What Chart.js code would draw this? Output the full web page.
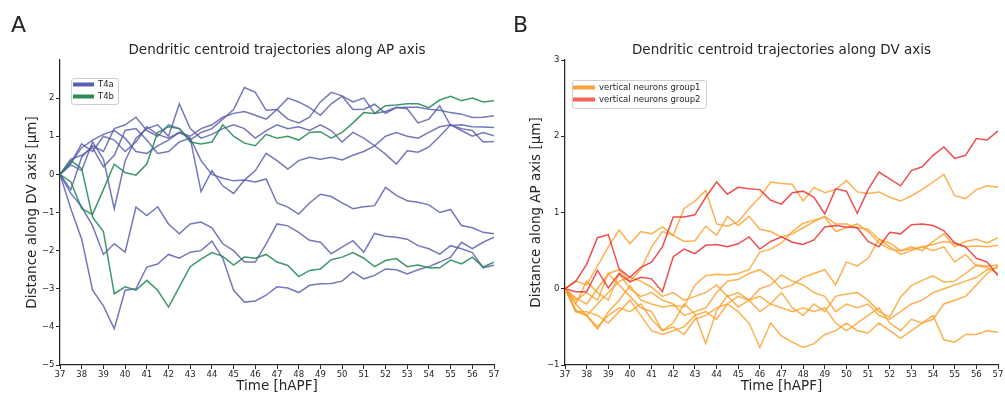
<!DOCTYPE html>
<html><head><meta charset="utf-8">
<script src="https://cdn.jsdelivr.net/npm/chart.js@4.4.0/dist/chart.umd.min.js"></script>
<style>
html,body{margin:0;padding:0;background:#fff;}
#wrap{position:relative;width:1005px;height:399px;overflow:hidden;background:#fff;}
canvas{position:absolute;top:0;}
#ca{left:0;}
#cb{left:502px;}
.letter{position:absolute;top:12px;font-family:'DejaVu Sans';font-size:22px;line-height:normal;color:#262626;}
</style></head><body>
<div id="wrap">
<canvas id="ca" width="502" height="399"></canvas>
<canvas id="cb" width="503" height="399"></canvas>
<div class="letter" style="left:11px">A</div>
<div class="letter" style="left:513px">B</div>
</div>
<script>
// ---- data (time in hAPF, every 0.5 h) ----
const times = [37,37.5,38,38.5,39,39.5,40,40.5,41,41.5,42,42.5,43,43.5,44,44.5,45,45.5,46,46.5,47,47.5,48,48.5,49,49.5,50,50.5,51,51.5,52,52.5,53,53.5,54,54.5,55,55.5,56,56.5,57];
const xTicks = [37,38,39,40,41,42,43,44,45,46,47,48,49,50,51,52,53,54,55,56,57];
const yTicksA = [-5,-4,-3,-2,-1,0,1,2];
const yTicksB = [-1,0,1,2,3];

// Panel A: T4a
const t4a_1 = [0,-0.4,0.45,0.75,0.6,1.2,1.3,1.5,1.15,1.0,1.3,1.2,0.9,1.1,1.2,1.45,1.7,2.28,2.15,1.68,1.7,1.45,1.35,1.5,1.9,2.15,2.06,1.9,2.0,1.6,1.65,1.76,1.72,1.35,1.45,1.8,1.28,1.3,1.25,1.24,1.23];
const t4a_2 = [0,0.3,0.8,0.6,1.0,0.9,0.6,0.85,1.25,1.05,0.95,1.1,1.0,1.2,1.3,1.5,1.6,1.65,1.55,1.45,1.7,2.0,1.9,1.75,1.55,1.85,2.05,1.7,1.71,1.84,1.6,1.75,1.76,1.76,1.71,1.68,1.62,1.58,1.49,1.5,1.54];
const t4a_3 = [0,0.25,0.1,0.85,0.4,-0.9,0.35,0.95,1.2,1.3,1.0,1.85,1.2,0.95,1.05,1.2,1.3,1.2,0.95,1.15,1.3,1.2,1.25,1.15,1.3,1.15,0.85,1.1,0.95,0.75,1.0,1.1,1.0,0.95,1.1,1.25,1.3,1.15,1.0,1.1,1.01];
const t4a_4 = [0,0.3,0.7,0.9,1.05,1.15,0.95,0.6,0.55,0.75,0.9,1.1,0.95,-0.45,0.1,-0.3,-0.5,-0.15,0.1,0.55,0.36,0.14,0.36,0.45,0.4,0.45,0.38,0.5,0.6,0.75,0.53,0.27,0.62,0.58,0.72,1.0,1.3,1.2,1.15,0.85,0.86];
const t4a_5 = [0,0.4,0.5,0.7,0.2,0.5,1.15,1.2,0.9,0.55,0.6,0.85,0.95,0.36,0.0,-0.1,-0.17,-0.15,-0.2,-0.12,-0.75,-0.86,-1.04,-0.75,-0.52,-0.58,-0.75,-0.9,-0.85,-0.82,-0.34,-0.55,-0.69,-0.73,-0.8,-1.0,-0.92,-1.34,-1.4,-1.52,-1.56];
const t4a_6 = [0,-0.9,-1.7,-3.04,-3.45,-4.05,-3.04,-3.0,-2.43,-2.35,-2.1,-2.2,-2.04,-2.0,-1.75,-2.2,-3.04,-3.35,-3.32,-3.17,-2.95,-2.98,-3.1,-2.91,-2.87,-2.86,-2.8,-2.56,-2.74,-2.65,-2.48,-2.5,-2.61,-2.5,-2.42,-2.3,-2.17,-1.78,-1.95,-1.78,-1.65];
const t4a_7 = [0,-0.5,-0.85,-1.35,-2.1,-1.82,-2.04,-0.86,-1.08,-0.85,-1.3,-1.56,-1.3,-1.25,-1.4,-1.82,-2.0,-2.3,-2.3,-1.82,-1.3,-1.35,-1.52,-1.73,-1.78,-2.08,-1.91,-1.74,-2.04,-1.55,-1.62,-1.65,-1.7,-1.87,-1.95,-2.09,-1.87,-1.95,-2.05,-2.45,-2.38];
// Panel A: T4b
const t4b_1 = [0,-0.2,-0.9,-1.05,-0.4,0.27,0.05,-0.02,0.27,1.1,1.25,1.2,0.85,0.8,0.85,1.3,1.0,0.82,0.75,1.05,0.95,1.0,0.9,1.1,1.12,0.95,1.1,1.35,1.62,1.6,1.8,1.82,1.85,1.85,1.75,1.95,2.05,1.93,2.0,1.9,1.93];
const t4b_2 = [0,0.36,0.15,-1.12,-1.5,-3.13,-2.95,-3.04,-2.78,-3.04,-3.48,-2.95,-2.42,-2.22,-2.05,-2.15,-2.38,-2.17,-2.2,-2.1,-2.3,-2.39,-2.68,-2.52,-2.48,-2.24,-2.17,-2.05,-2.2,-2.42,-2.26,-2.21,-2.42,-2.38,-2.45,-2.45,-2.25,-2.35,-2.17,-2.43,-2.3];

// Panel B: vertical neurons group2
const vg2_1 = [0,0.1,0.32,0.67,0.71,0.26,0.15,0.28,0.35,0.55,0.94,0.94,0.97,1.2,1.4,1.24,1.33,1.31,1.3,1.16,1.11,1.26,1.28,1.2,0.98,1.31,1.28,0.99,1.3,1.53,1.44,1.35,1.55,1.6,1.75,1.86,1.71,1.75,1.97,1.95,2.07];
const vg2_2 = [0,-0.04,-0.04,0.24,0.01,0.2,0.09,0.15,0.13,-0.04,0.42,0.52,0.46,0.57,0.58,0.55,0.59,0.68,0.52,0.62,0.68,0.61,0.58,0.64,0.81,0.83,0.81,0.8,0.62,0.55,0.74,0.72,0.84,0.85,0.83,0.76,0.6,0.55,0.4,0.35,0.17];
// Panel B: vertical neurons group1
const vg1_1 = [0,-0.12,-0.2,0.0,0.2,0.25,0.1,0.25,0.55,0.75,0.7,1.05,1.15,1.29,0.85,0.82,0.88,1.05,1.2,1.4,1.38,1.37,1.15,1.33,1.26,1.3,1.42,1.27,1.25,1.27,1.2,1.15,1.22,1.3,1.4,1.5,1.22,1.18,1.3,1.35,1.33];
const vg1_2 = [0,0.1,0.05,0.3,0.55,0.77,0.59,0.75,0.72,0.81,0.7,0.62,0.63,0.82,0.7,0.95,0.83,0.95,0.78,0.75,0.68,0.72,0.8,0.88,0.95,0.85,0.85,0.8,0.78,0.65,0.6,0.5,0.52,0.55,0.58,0.62,0.6,0.55,0.56,0.55,0.57];
const vg1_3 = [0,-0.28,-0.35,-0.53,-0.3,-0.15,0.04,-0.15,-0.2,-0.24,-0.22,-0.24,0.05,0.17,0.19,0.18,0.2,0.25,0.48,0.52,0.6,0.75,0.86,0.9,0.94,0.75,0.8,0.85,0.75,0.6,0.52,0.5,0.55,0.5,0.62,0.72,0.55,0.62,0.65,0.6,0.67];
const vg1_4 = [0,-0.15,-0.05,-0.15,0.2,0.05,-0.1,-0.25,-0.3,-0.55,-0.45,-0.2,-0.33,-0.72,-0.29,-0.09,-0.24,-0.15,-0.1,-0.2,-0.05,-0.25,-0.35,-0.2,-0.3,-0.1,-0.07,-0.05,-0.15,-0.3,-0.37,-0.11,0.04,0.11,0.17,0.09,0.1,0.2,0.31,0.3,0.31];
const vg1_5 = [0,-0.2,0.1,-0.05,-0.15,0.2,0.0,-0.1,-0.05,-0.15,-0.2,-0.35,-0.3,-0.25,-0.05,0.1,0.12,0.2,0.25,0.15,0.0,0.05,0.15,0.2,0.25,0.05,0.35,0.3,0.4,0.65,0.55,0.45,0.5,0.55,0.5,0.55,0.35,0.45,0.3,0.28,0.2];
const vg1_6 = [0,-0.3,-0.35,-0.2,-0.05,0.1,0.15,0.1,0.02,-0.1,-0.05,-0.15,-0.1,-0.05,0.05,-0.1,-0.05,-0.15,0.0,0.05,0.18,0.1,0.05,-0.05,-0.1,-0.3,-0.2,-0.25,-0.2,-0.35,-0.4,-0.3,-0.2,-0.15,-0.05,0.0,0.05,0.1,0.15,0.25,0.28];
const vg1_7 = [0,-0.2,-0.35,-0.5,-0.35,-0.25,-0.3,-0.2,-0.4,-0.55,-0.5,-0.6,-0.4,-0.35,-0.25,-0.2,-0.3,-0.45,-0.77,-0.45,-0.62,-0.7,-0.77,-0.72,-0.6,-0.55,-0.45,-0.55,-0.58,-0.45,-0.55,-0.65,-0.55,-0.45,-0.35,-0.67,-0.7,-0.6,-0.6,-0.55,-0.57];
const vg1_8 = [0,-0.3,-0.3,-0.35,-0.45,-0.3,-0.15,-0.35,-0.55,-0.6,-0.55,-0.5,-0.35,-0.3,-0.4,-0.2,-0.1,-0.15,-0.3,-0.2,-0.25,-0.3,-0.25,-0.3,-0.25,-0.45,-0.55,-0.45,-0.35,-0.25,-0.45,-0.55,-0.4,-0.45,-0.4,-0.2,-0.15,-0.1,0.05,0.2,0.3];

const T4A = [t4a_1,t4a_2,t4a_3,t4a_4,t4a_5,t4a_6,t4a_7];
const T4B = [t4b_1,t4b_2];
const VG1 = [vg1_1,vg1_2,vg1_3,vg1_4,vg1_5,vg1_6,vg1_7,vg1_8];
const VG2 = [vg2_1,vg2_2];

// ---- styles ----
const F = 'DejaVu Sans';
const INK = '#262626';
const C_T4A = 'rgba(86,90,170,0.82)';
const C_T4B = 'rgba(36,138,88,0.88)';
const C_VG1 = 'rgba(250,160,40,0.82)';
const C_VG2 = 'rgba(232,40,42,0.82)';

function pts(vals){ return times.map((t,i)=>({x:t,y:vals[i]})); }
function ds(vals,color){ return {data:pts(vals),borderColor:color,borderWidth:1.5,pointRadius:0,fill:false,tension:0}; }
function fmt(v){ return v<0 ? '\u2212'+Math.abs(v) : String(v); }

const boxLegend = {
  id:'boxLegend',
  afterDraw(chart,args,o){
    if(!o || !o.items) return;
    const c = chart.ctx;
    c.save();
    c.beginPath();
    c.roundRect(o.x+0.5,o.y+0.5,o.w,o.h,2.5);
    c.fillStyle='rgba(255,255,255,0.8)'; c.fill();
    c.lineWidth=1; c.strokeStyle='#cfcfcf'; c.stroke();
    o.items.forEach(it=>{
      c.beginPath(); c.moveTo(o.hx0,it.y); c.lineTo(o.hx1,it.y);
      c.lineWidth=4; c.lineCap='butt'; c.strokeStyle=it.color; c.stroke();
      c.fillStyle=INK; c.font='8.5px "DejaVu Sans"'; c.textBaseline='middle'; c.textAlign='left';
      c.fillText(it.text,o.tx,it.y+0.5);
    });
    c.restore();
  }
};

function axisCommon(){
  return {
    grid:{display:true,drawOnChartArea:false,drawTicks:true,tickLength:4,tickWidth:1,tickColor:INK},
    border:{display:true,color:INK,width:1.25}
  };
}

function panel(id,cfg){
  return new Chart(document.getElementById(id),{
    type:'line',
    data:{datasets:cfg.datasets},
    options:{
      responsive:false, animation:false, events:[],
      layout:{padding:{top:42,left:0,right:cfg.padRight,bottom:0}},
      plugins:{
        legend:{display:false}, tooltip:{enabled:false},
        title:{display:true,text:cfg.title,fullSize:false,color:INK,font:{family:F,size:13.5,weight:'normal'},padding:{top:0,bottom:1.8}},
        boxLegend:cfg.legend
      },
      scales:{
        x:Object.assign(axisCommon(),{
          type:'linear',min:37,max:57,
          afterBuildTicks:s=>{s.ticks=xTicks.map(v=>({value:v}));},
          afterFit:s=>{s.height=34;},
          ticks:{autoSkip:false,maxRotation:0,padding:1,color:INK,font:{family:F,size:8.5},callback:v=>fmt(v)},
          title:{display:true,text:'Time [hAPF]',color:INK,font:{family:F,size:13.5},padding:{top:0,bottom:4}}
        }),
        y:Object.assign(axisCommon(),{
          type:'linear',min:cfg.ymin,max:cfg.ymax,
          afterBuildTicks:s=>{s.ticks=cfg.yTicks.map(v=>({value:v}));},
          afterFit:s=>{s.width=cfg.yWidth;},
          ticks:{padding:1.5,color:INK,font:{family:F,size:8.5},callback:v=>fmt(v)},
          title:{display:true,text:cfg.ylabel,color:INK,font:{family:F,size:13.5},padding:{top:cfg.yTitlePad,bottom:0}}
        })
      }
    },
    plugins:[boxLegend]
  });
}

panel('ca',{
  title:'Dendritic centroid trajectories along AP axis',
  ylabel:'Distance along DV axis [\u00b5m]',
  ymin:-5, ymax:3, yTicks:yTicksA, yWidth:60, yTitlePad:24, padRight:8,
  datasets:[...T4B.map(v=>ds(v,C_T4B)), ...T4A.map(v=>ds(v,C_T4A))],
  legend:{x:71,y:78,w:47,h:26,hx0:73,hx1:94,tx:98,items:[{text:'T4a',color:'#5a5eae',y:84.5},{text:'T4b',color:'#2e8b57',y:96.5}]}
});

panel('cb',{
  title:'Dendritic centroid trajectories along DV axis',
  ylabel:'Distance along AP axis [\u00b5m]',
  ymin:-1, ymax:3, yTicks:yTicksB, yWidth:63, yTitlePad:26, padRight:7,
  datasets:[...VG2.map(v=>ds(v,C_VG2)), ...VG1.map(v=>ds(v,C_VG1))],
  legend:{x:70,y:80,w:134,h:28,hx0:71,hx1:93,tx:97,items:[{text:'vertical neurons group1',color:'#f9a33a',y:87.5},{text:'vertical neurons group2',color:'#ef6552',y:99.5}]}
});
</script>
</body></html>
